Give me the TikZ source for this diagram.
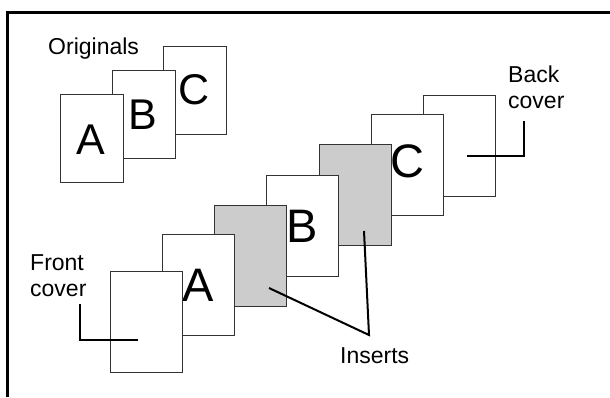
\documentclass[tikz,border=0pt]{standalone}
\usepackage{fontspec}
\setmainfont{Liberation Sans}
\definecolor{pageline}{HTML}{333333}
\definecolor{insertgray}{HTML}{CCCCCC}
\tikzset{
  orig/.style={draw=pageline, line width=1pt, fill=white, minimum width=63pt, minimum height=88pt, inner sep=0pt, anchor=north west},
  sheet/.style={draw=pageline, line width=1pt, fill=white, minimum width=72pt, minimum height=101pt, inner sep=0pt, anchor=north west},
  insertsheet/.style={sheet, fill=insertgray},
  bigletter/.style={font=\fontsize{43}{43}\selectfont, inner sep=0pt, anchor=base},
  seqletter/.style={font=\fontsize{47}{47}\selectfont, inner sep=0pt, anchor=base},
  lbl/.style={font=\fontsize{23}{26}\selectfont, inner sep=0pt, align=left},
  pointer/.style={line width=2pt, black}
}
\begin{document}
\begin{tikzpicture}[x=1pt,y=-1pt]
\useasboundingbox (0,0) rectangle (610,397);
% frame
\draw[line width=3pt] (7.5,397) -- (7.5,12.5) -- (610,12.5);
% originals
\node[lbl, anchor=base west] (origlbl) at (48,54) {Originals};
\node[orig] (oC) at (163,46) {};
\node[bigletter] (oCl) at (194,104) {C};
\node[orig] (oB) at (111.5,70) {};
\node[bigletter] (oBl) at (142.5,129) {B};
\node[orig] (oA) at (59.5,94) {};
\node[bigletter] (oAl) at (91,154) {A};
% sequence
\node[sheet] (back) at (422.5,94.5) {};
\node[sheet] (sC) at (370.5,114) {};
\node[seqletter] (sCl) at (407,177) {C};
\node[insertsheet] (ins2) at (318.5,144) {};
\node[sheet] (sB) at (266,174.5) {};
\node[seqletter] (sBl) at (302,242) {B};
\node[insertsheet] (ins1) at (214,205) {};
\node[sheet] (sA) at (162,234) {};
\node[seqletter] (sAl) at (198,301) {A};
\node[sheet] (front) at (109.5,270.5) {};
% labels
\node[lbl, anchor=north west] (frontlbl) at (30,254) {Front\\cover};
\node[lbl, anchor=north west] (backlbl) at (508,66) {Back\\cover};
\node[lbl, anchor=base west] (inslbl) at (340,363) {Inserts};
% brackets
\coordinate (fb1) at (80,304);
\coordinate (fb2) at (80,340);
\coordinate (fb3) at (138,340);
\draw[pointer] (fb1) -- (fb2) -- (fb3);
\coordinate (bb1) at (524,121);
\coordinate (bb2) at (524,156);
\coordinate (bb3) at (467,156);
\draw[pointer] (bb1) -- (bb2) -- (bb3);
% insert pointers
\coordinate (p1) at (269,288);
\coordinate (apex) at (369,335);
\coordinate (p2) at (364,231);
\draw[pointer] (p1) -- (apex) -- (p2);
\end{tikzpicture}
\end{document}
